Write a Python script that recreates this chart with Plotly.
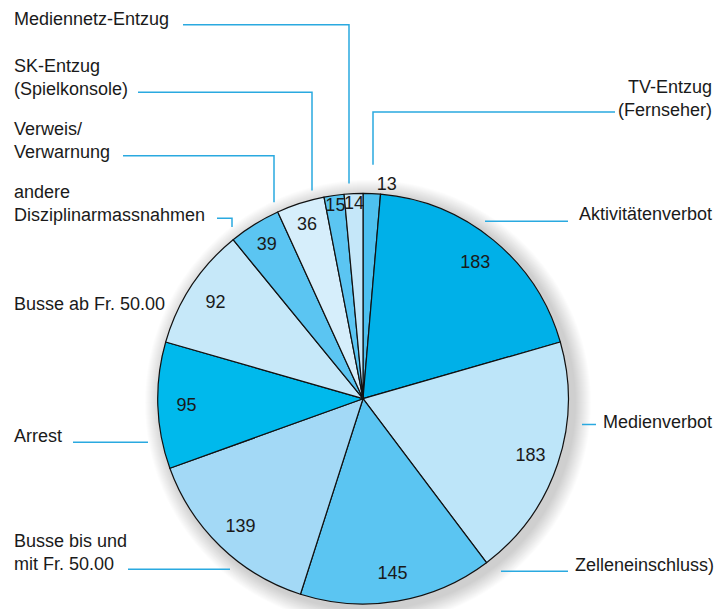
import plotly.graph_objects as go

W, H = 716, 609

categories = [
    "TV-Entzug (Fernseher)", "Aktivitätenverbot", "Medienverbot", "Zelleneinschluss)",
    "Busse bis und mit Fr. 50.00", "Arrest", "Busse ab Fr. 50.00",
    "andere Disziplinarmassnahmen", "Verweis/Verwarnung", "SK-Entzug (Spielkonsole)",
    "Mediennetz-Entzug",
]
values = [13, 183, 183, 145, 139, 95, 92, 39, 36, 15, 14]
colors = ["#4ec1f0", "#00b0e8", "#bde5f9", "#5bc5f2", "#a3d9f6", "#00b9ec",
          "#c6e8f9", "#5bc5f2", "#d6eefb", "#5bc5f2", "#c5e7f9"]

# label texts (with line breaks) and their layout in pixels
label_texts = [
    "TV-Entzug<br>(Fernseher)", "Aktivitätenverbot", "Medienverbot", "Zelleneinschluss)",
    "Busse bis und<br>mit Fr. 50.00", "Arrest", "Busse ab Fr. 50.00",
    "andere<br>Disziplinarmassnahmen", "Verweis/<br>Verwarnung", "SK-Entzug<br>(Spielkonsole)",
    "Mediennetz-Entzug",
]
label_pos = [  # (x, y_center, anchor)
    (714, 99, "right"), (714, 216, "right"), (714, 425, "right"), (716, 570, "right"),
    (12, 557, "left"), (12, 440, "left"), (12, 307, "left"),
    (12, 205, "left"), (12, 142, "left"), (12, 78, "left"), (12, 19, "left"),
]
leader_paths = [
    [(615, 113), (373, 113), (373, 166)],
    [(568, 223), (485, 223)],
    [(596, 428), (582, 428)],
    [(568, 576), (501, 576)],
    [(128, 574), (230, 574)],
    [(73, 446), (148, 446)],
    None,
    [(217, 220), (232, 220), (232, 229)],
    [(123, 157), (274, 157), (274, 204)],
    [(138, 93), (312, 93), (312, 192)],
    [(183, 25), (349, 25), (349, 185)],
]

CX, CY, R = 363, 402, 207
dom_x = [(CX - R) / W, (CX + R) / W]
dom_y = [1 - (CY + R) / H, 1 - (CY - R) / H]

FONT = "Liberation Sans, Arial, Helvetica, sans-serif"
TXT = "#1a1a1a"
FS = 18

fig = go.Figure()

fig.add_trace(go.Pie(
    labels=categories, values=values, sort=False, direction="clockwise", rotation=0,
    marker=dict(colors=colors, line=dict(color="#111111", width=1.2)),
    textinfo="none", hoverinfo="label+value", domain=dict(x=dom_x, y=dom_y),
    showlegend=False,
))

# transparent ring carrying the value labels near the rim
fig.add_trace(go.Pie(
    labels=categories, values=values, sort=False, direction="clockwise", rotation=0,
    hole=0.72,
    marker=dict(colors=["rgba(0,0,0,0)"] * len(values), line=dict(width=0)),
    text=[str(v) for v in values], textinfo="text",
    textposition=["outside"] + ["inside"] * (len(values) - 1),
    insidetextorientation="horizontal",
    textfont=dict(family=FONT, size=FS, color=TXT),
    hoverinfo="skip", domain=dict(x=dom_x, y=dom_y), showlegend=False,
))

shapes = []
# soft drop shadow
cxp, cyp = CX / W, 1 - CY / H
for i in range(1, 17):
    rr = R + i
    shapes.append(dict(
        type="circle", xref="paper", yref="paper", xsizemode="pixel", ysizemode="pixel",
        xanchor=cxp, yanchor=cyp, x0=-rr + 5, x1=rr + 5, y0=-rr - 4, y1=rr - 4,
        fillcolor="rgba(0,0,0,0.012)", line=dict(width=0), layer="below",
    ))

for path in leader_paths:
    if not path:
        continue
    d = "M " + " L ".join(f"{x / W},{1 - y / H}" for x, y in path)
    shapes.append(dict(type="path", xref="paper", yref="paper", path=d,
                       line=dict(color="#2aa9e0", width=1.5)))

annotations = []
for txt, (x, y, anc) in zip(label_texts, label_pos):
    annotations.append(dict(
        text=txt, x=x / W, y=1 - y / H, xref="paper", yref="paper",
        xanchor=anc, yanchor="middle", align=anc, showarrow=False,
        font=dict(family=FONT, size=FS, color=TXT),
    ))

fig.update_layout(
    width=W, height=H, margin=dict(l=0, r=0, t=0, b=0),
    paper_bgcolor="white", plot_bgcolor="white",
    shapes=shapes, annotations=annotations,
    uniformtext=dict(minsize=FS, mode="show"),
)

fig.write_html(
    "out.html",
    config={"displayModeBar": False},
    post_script="document.body.style.margin='0';document.body.style.overflow='hidden';",
)
